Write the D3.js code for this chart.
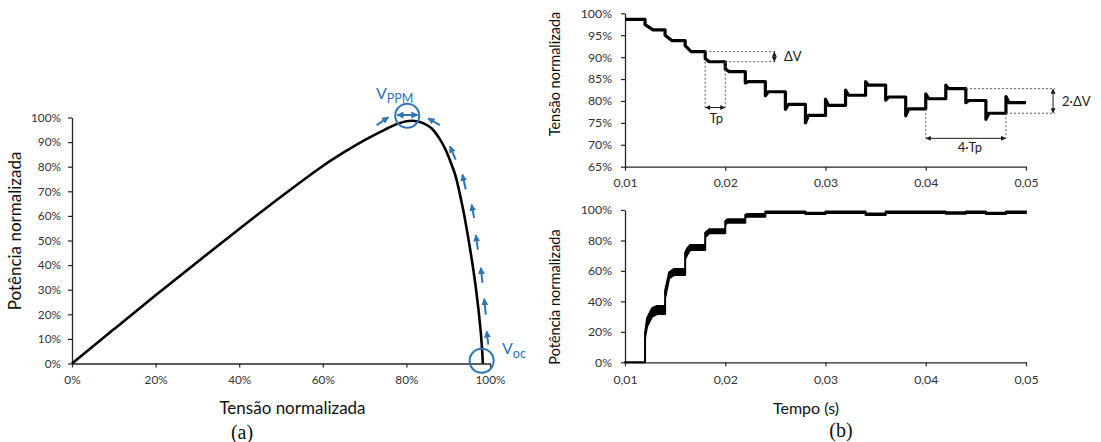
<!DOCTYPE html>
<html><head><meta charset="utf-8">
<script src="https://cdn.jsdelivr.net/npm/d3@7"></script>
<style>
body{margin:0;background:#fff}
svg{display:block}
text{font-family:Lato,"Open Sans",sans-serif}
</style></head><body>
<svg id="c" width="1101" height="442"></svg>
<script>
// ---------- Panel (a): P-V curve ----------
const pvVoltage = [0,0.10,0.20,0.30,0.40,0.50,0.60,0.65,0.70,0.75,0.78,0.80,0.82,0.84,0.86,0.88,0.894,0.91,0.918,0.934,0.95,0.966,0.978,0.983];
const pvPower   = [0,0.139,0.277,0.413,0.547,0.678,0.803,0.858,0.908,0.952,0.975,0.985,0.986,0.977,0.956,0.912,0.868,0.80,0.76,0.64,0.49,0.31,0.126,0];
const axisTicksA = [0,0.2,0.4,0.6,0.8,1.0];
const yTicksA = [0,0.1,0.2,0.3,0.4,0.5,0.6,0.7,0.8,0.9,1.0];
// MPPT perturbation arrows (tail V, tail P, tip V, tip P)
const arrowTailV = [0.996,0.990,0.982,0.971,0.962,0.942,0.918,0.880,0.729];
const arrowTailP = [0.077,0.199,0.328,0.463,0.592,0.707,0.829,0.969,0.969];
const arrowTipV  = [0.992,0.986,0.978,0.966,0.956,0.934,0.904,0.852,0.757];
const arrowTipP  = [0.131,0.263,0.389,0.522,0.646,0.768,0.883,0.997,1.001];

// ---------- Panel (b): time series ----------
const stepTimes  = [0.010,0.012,0.014,0.016,0.018,0.020,0.022,0.024,0.026,0.028,0.030,0.032,0.034,0.036,0.038,0.040,0.042,0.044,0.046,0.048];
const voltLevels = [0.986,0.962,0.9375,0.9125,0.8895,0.867,0.844,0.821,0.792,0.767,0.790,0.813,0.836,0.809,0.782,0.805,0.828,0.801,0.772,0.796];
const voltSpikes = [0.974,0.950,0.926,0.897,0.873,0.841,0.812,0.781,0.750,0.804,0.825,0.844,0.802,0.766,0.816,0.836,0.796,0.758,0.810];
const voltSettle = [0.0008,0.0007,0.0006,0.0004,0.0004,0.0003,0.0003,0.0003,0.0003,0.0003,0.0003,0.0003,0.0003,0.0003,0.0003,0.0003,0.0003,0.0003,0.0003];
const timeTicks = [0.01,0.02,0.03,0.04,0.05];
const timeTickLabels = ["0,01","0,02","0,03","0,04","0,05"];
const voltTicks = [0.65,0.70,0.75,0.80,0.85,0.90,0.95,1.00];
const powTicks = [0,0.2,0.4,0.6,0.8,1.0];

const powTime = [0.010,0.012,0.012,0.0122,0.0127,0.0132,0.014,0.014,0.0144,0.0149,0.016,0.016,0.0162,0.0165,0.018,0.018,0.0184,0.020,0.020,0.0202,0.022,0.022,0.0222,0.024,0.024,0.028,0.028,0.030,0.030,0.034,0.034,0.036,0.036,0.042,0.042,0.044,0.044,0.046,0.046,0.048,0.048,0.050];
const powLow  = [0,0,0.16,0.234,0.300,0.317,0.317,0.42,0.550,0.573,0.573,0.68,0.705,0.737,0.737,0.82,0.847,0.847,0.90,0.917,0.917,0.95,0.956,0.956,0.981,0.981,0.973,0.973,0.981,0.981,0.967,0.967,0.981,0.981,0.976,0.976,0.981,0.981,0.973,0.973,0.981,0.981];
const powHigh = [0,0,0.19,0.289,0.355,0.370,0.372,0.47,0.590,0.613,0.613,0.72,0.748,0.770,0.770,0.85,0.873,0.873,0.925,0.939,0.939,0.968,0.974,0.974,0.990,0.990,0.982,0.982,0.990,0.990,0.977,0.977,0.990,0.990,0.985,0.985,0.990,0.990,0.982,0.982,0.990,0.990];

const svg = d3.select("#c");
const blue = "#2e75b6", ink = "#1a1a1a", tickCol = "#333";

// markers
const defs = svg.append("defs");
function marker(id, color, size){
  defs.append("marker").attr("id",id).attr("viewBox","0 0 10 10")
    .attr("refX",9).attr("refY",5).attr("markerWidth",size).attr("markerHeight",size)
    .attr("markerUnits","userSpaceOnUse").attr("orient","auto-start-reverse")
    .append("path").attr("d","M0,0 L10,5 L0,10 z").attr("fill",color);
}
marker("ab", blue, 7);
marker("ak", ink, 5);

function styleAxis(g, fs){
  g.select(".domain").attr("stroke","#262626").attr("stroke-width",1.3);
  g.selectAll(".tick line").attr("stroke","#262626").attr("stroke-width",1.2);
  g.selectAll(".tick text").attr("fill",tickCol).style("font-size",fs+"px").style("font-family","Lato");
}

// ===== Panel (a) =====
const xa = d3.scaleLinear().domain([0,1]).range([72,490]);
const ya = d3.scaleLinear().domain([0,1]).range([363.5,117.5]);
const pctA = d3.format(".0%");

svg.append("g").attr("transform","translate(0,363.5)")
  .call(d3.axisBottom(xa).tickValues(axisTicksA).tickFormat(pctA).tickSize(4).tickSizeOuter(0).tickPadding(8))
  .call(g=>styleAxis(g,11.8));
svg.append("g").attr("transform","translate(72,0)")
  .call(d3.axisLeft(ya).tickValues(yTicksA).tickFormat(pctA).tickSize(4).tickSizeOuter(0).tickPadding(7))
  .call(g=>styleAxis(g,11.8));

const pvData = pvVoltage.map((v,i)=>[v,pvPower[i]]);
svg.append("path").datum(pvData)
  .attr("d", d3.line().x(d=>xa(d[0])).y(d=>ya(d[1])).curve(d3.curveCatmullRom.alpha(0.5)))
  .attr("fill","none").attr("stroke","#000").attr("stroke-width",2.6);

// blue arrows
arrowTailV.forEach((v,i)=>{
  svg.append("line").attr("x1",xa(v)).attr("y1",ya(arrowTailP[i]))
    .attr("x2",xa(arrowTipV[i])).attr("y2",ya(arrowTipP[i]))
    .attr("stroke",blue).attr("stroke-width",2).attr("marker-end","url(#ab)");
});
// circles
svg.append("circle").attr("cx",xa(0.802)).attr("cy",ya(1.007)).attr("r",12)
  .attr("fill","none").attr("stroke",blue).attr("stroke-width",2);
svg.append("circle").attr("cx",xa(0.980)).attr("cy",ya(0.011)).attr("r",12)
  .attr("fill","none").attr("stroke",blue).attr("stroke-width",2);
svg.append("line").attr("x1",xa(0.778)).attr("y1",ya(1.01)).attr("x2",xa(0.827)).attr("y2",ya(1.01))
  .attr("stroke",blue).attr("stroke-width",2)
  .attr("marker-start","url(#ab)").attr("marker-end","url(#ab)");
// labels
const vppm = svg.append("text").attr("x",376).attr("y",99).attr("fill",blue).style("font-size","16px");
vppm.append("tspan").text("V");
vppm.append("tspan").attr("dy",4).style("font-size","12.5px").text("PPM");
const voc = svg.append("text").attr("x",502).attr("y",354).attr("fill",blue).style("font-size","16px");
voc.append("tspan").text("V");
voc.append("tspan").attr("dy",4).style("font-size","12.5px").text("oc");

// titles
svg.append("text").attr("x",292.5).attr("y",414).attr("text-anchor","middle")
  .attr("fill","#111").style("font-size","17px").text("Tensão normalizada");
svg.append("text").attr("transform","translate(21,231) rotate(-90)").attr("text-anchor","middle")
  .attr("fill","#111").style("font-size","17px").text("Potência normalizada");
svg.append("text").attr("x",242).attr("y",439).attr("text-anchor","middle")
  .attr("fill","#111").style("font-family","'Liberation Serif',serif").style("font-size","20px").text("(a)");

// ===== Panel (b) top: voltage =====
const xb = d3.scaleLinear().domain([0.01,0.05]).range([625,1026]);
const yv = d3.scaleLinear().domain([0.65,1]).range([166.7,13.3]);
const yp = d3.scaleLinear().domain([0,1]).range([362.3,210]);
const tickLab = d => timeTickLabels[timeTicks.indexOf(d)];

svg.append("g").attr("transform","translate(0,166.7)")
  .call(d3.axisBottom(xb).tickValues(timeTicks).tickFormat(tickLab).tickSize(4).tickSizeOuter(0).tickPadding(8))
  .call(g=>styleAxis(g,12.3));
svg.append("g").attr("transform","translate(625,0)")
  .call(d3.axisLeft(yv).tickValues(voltTicks).tickFormat(d3.format(".0%")).tickSize(4).tickSizeOuter(0).tickPadding(9))
  .call(g=>styleAxis(g,12.3));

const vPts = [[stepTimes[0], voltLevels[0]]];
for(let i=1;i<stepTimes.length;i++){
  const t = stepTimes[i];
  vPts.push([t, voltLevels[i-1]], [t, voltSpikes[i-1]], [t+voltSettle[i-1], voltLevels[i]]);
}
vPts.push([0.050, voltLevels[voltLevels.length-1]]);
svg.append("path").datum(vPts)
  .attr("d", d3.line().x(d=>xb(d[0])).y(d=>yv(d[1])))
  .attr("fill","none").attr("stroke","#000").attr("stroke-width",3.2).attr("stroke-linejoin","round");

// annotations
const dash = {stroke:"#555", "stroke-width":1, "stroke-dasharray":"2,2", fill:"none"};
function dl(x1,y1,x2,y2){
  const l = svg.append("line").attr("x1",x1).attr("y1",y1).attr("x2",x2).attr("y2",y2);
  Object.entries(dash).forEach(([k,v])=>l.attr(k,v));
}
function dArrow(x1,y1,x2,y2){
  svg.append("line").attr("x1",x1).attr("y1",y1).attr("x2",x2).attr("y2",y2)
    .attr("stroke",ink).attr("stroke-width",1)
    .attr("marker-start","url(#ak)").attr("marker-end","url(#ak)");
}
function lab(x,y,txt,anchor){
  svg.append("text").attr("x",x).attr("y",y).attr("text-anchor",anchor||"start")
    .attr("dominant-baseline","central").attr("fill","#222").style("font-size","13px").text(txt);
}
// ΔV
dl(xb(0.018), yv(0.9125), xb(0.0250), yv(0.9125));
dl(xb(0.020), yv(0.8895), xb(0.0250), yv(0.8895));
dArrow(xb(0.0249), yv(0.9125)+0.5, xb(0.0249), yv(0.8895)-0.5);
lab(xb(0.02585), yv(0.9015), "ΔV");
// Tp
dl(xb(0.018), yv(0.8895), xb(0.018), yv(0.783));
dl(xb(0.020), yv(0.8895), xb(0.020), yv(0.783));
dArrow(xb(0.018)+0.5, yv(0.785), xb(0.020)-0.5, yv(0.785));
lab(xb(0.0191), yv(0.761), "Tp", "middle");
// 2·ΔV
dl(xb(0.044), yv(0.828), xb(0.0529), yv(0.828));
dl(xb(0.048), yv(0.772), xb(0.0529), yv(0.772));
dArrow(xb(0.0527), yv(0.828)+0.5, xb(0.0527), yv(0.772)-0.5);
lab(xb(0.0536), yv(0.801), "2·ΔV");
// 4·Tp
dl(xb(0.040), yv(0.782), xb(0.040), yv(0.7147));
dl(xb(0.048), yv(0.772), xb(0.048), yv(0.7147));
dArrow(xb(0.040)+0.5, yv(0.7147), xb(0.048)-0.5, yv(0.7147));
lab(xb(0.0444), yv(0.696), "4·Tp", "middle");

svg.append("text").attr("transform","translate(560,74) rotate(-90)").attr("text-anchor","middle")
  .attr("fill","#111").style("font-size","14.5px").text("Tensão normalizada");

// ===== Panel (b) bottom: power =====
svg.append("g").attr("transform","translate(0,362.3)")
  .call(d3.axisBottom(xb).tickValues(timeTicks).tickFormat(tickLab).tickSize(4).tickSizeOuter(0).tickPadding(9))
  .call(g=>styleAxis(g,12.3));
svg.append("g").attr("transform","translate(625,0)")
  .call(d3.axisLeft(yp).tickValues(powTicks).tickFormat(d3.format(".0%")).tickSize(4).tickSizeOuter(0).tickPadding(9))
  .call(g=>styleAxis(g,12.3));

const pData = powTime.map((t,i)=>({t, lo:powLow[i], hi:powHigh[i]}));
svg.append("path").datum(pData)
  .attr("d", d3.area().x(d=>xb(d.t)).y0(d=>yp(d.lo)).y1(d=>yp(d.hi)))
  .attr("fill","#000").attr("stroke","#000").attr("stroke-width",2).attr("stroke-linejoin","round");

svg.append("text").attr("transform","translate(560,297) rotate(-90)").attr("text-anchor","middle")
  .attr("fill","#111").style("font-size","14.5px").text("Potência normalizada");
svg.append("text").attr("x",806).attr("y",414).attr("text-anchor","middle")
  .attr("fill","#111").style("font-size","16px").text("Tempo (s)");
svg.append("text").attr("x",841).attr("y",437).attr("text-anchor","middle")
  .attr("fill","#111").style("font-family","'Liberation Serif',serif").style("font-size","20px").text("(b)");
</script>
</body></html>
